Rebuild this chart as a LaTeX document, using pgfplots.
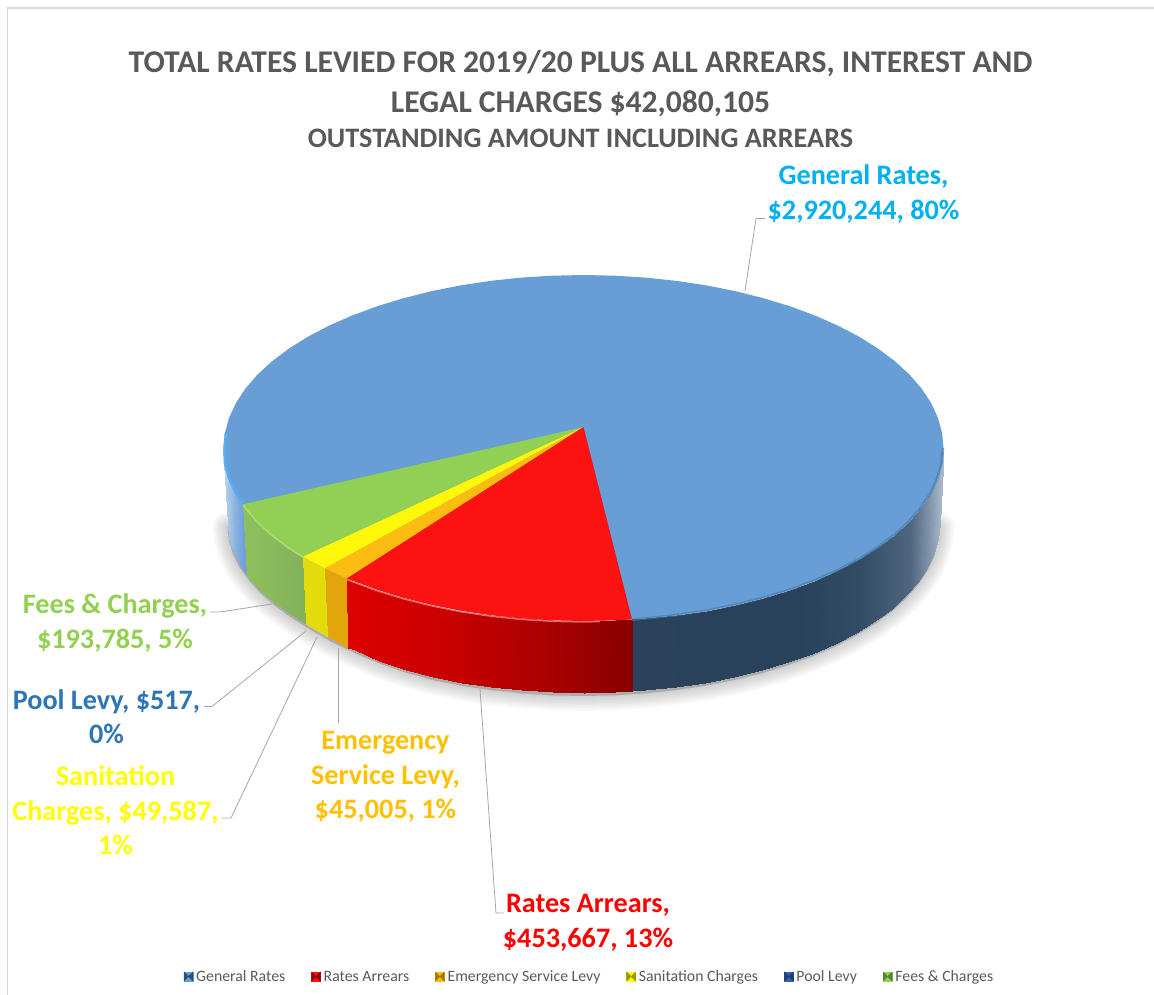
\documentclass[border=0pt]{standalone}
\usepackage{fontspec}
\setmainfont{Carlito}
\usepackage{pgfplots}
\usepackage{pgfplotstable}
\pgfplotsset{compat=1.18}

% Slice and label colours
\definecolor{capblue}{RGB}{103,158,214}
\definecolor{capred}{RGB}{253,18,18}
\definecolor{caporange}{RGB}{253,188,18}
\definecolor{capyellow}{RGB}{255,248,11}
\definecolor{capgreen}{RGB}{146,208,85}
\definecolor{txtblue}{RGB}{0,176,240}
\definecolor{txtred}{RGB}{255,0,0}
\definecolor{txtorange}{RGB}{255,192,0}
\definecolor{txtyellow}{RGB}{255,255,0}
\definecolor{txtpool}{RGB}{46,117,182}
\definecolor{txtgreen}{RGB}{146,208,80}
\definecolor{titlegrey}{RGB}{89,89,89}
\definecolor{leader}{RGB}{166,166,166}
\definecolor{frameline}{RGB}{217,217,217}
% Darker sides of the legend keys, and the bevel edge colours
\definecolor{keybluedark}{RGB}{45,80,120}
\definecolor{keyreddark}{RGB}{150,0,0}
\definecolor{keyorangedark}{RGB}{160,120,10}
\definecolor{keyyellowdark}{RGB}{150,150,10}
\definecolor{keypool}{RGB}{46,100,182}
\definecolor{keypooldark}{RGB}{30,60,110}
\definecolor{keygreendark}{RGB}{85,130,50}
\definecolor{bevelred}{RGB}{255,150,150}
\definecolor{bevelgreen}{RGB}{172,222,110}
\definecolor{bevelblueback}{RGB}{86,172,240}
\definecolor{bevelbluefront}{RGB}{70,120,170}

% Outline of the upper face of the disc
\pgfplotstableread{
x y
943.5 448
942.1 463.1
938 478
931.2 492.8
921.8 507.2
909.8 521.1
895.3 534.5
878.4 547.2
859.3 559.2
838.1 570.3
814.9 580.5
790 589.7
763.5 597.8
735.6 604.8
706.6 610.6
676.7 615.1
646 618.4
614.9 620.3
583.5 621
552.1 620.3
521 618.4
490.3 615.1
460.4 610.6
431.4 604.8
403.5 597.8
377 589.7
352.1 580.5
328.9 570.3
307.7 559.2
288.6 547.2
271.7 534.5
257.2 521.1
245.2 507.2
235.8 492.8
229 478
224.9 463.1
223.5 448
224.9 432.9
229 418
235.8 403.2
245.2 388.8
257.2 374.9
271.7 361.5
288.6 348.8
307.7 336.8
328.9 325.7
352.1 315.5
377 306.3
403.5 298.2
431.4 291.2
460.4 285.4
490.3 280.9
521 277.6
552.1 275.7
583.5 275
614.9 275.7
646 277.6
676.7 280.9
706.6 285.4
735.6 291.2
763.5 298.2
790 306.3
814.9 315.5
838.1 325.7
859.3 336.8
878.4 348.8
895.3 361.5
909.8 374.9
921.8 388.8
931.2 403.2
938 418
942.1 432.9
943.5 448
}\rimtop

% Lower edge of the disc, used for the ground shadow
\pgfplotstableread{
x y
939.5 524
938.1 538.7
934.1 553.3
927.4 567.7
918 581.8
906.1 595.4
891.8 608.5
875.1 620.9
856.2 632.6
835.2 643.5
812.3 653.5
787.7 662.4
761.5 670.4
733.9 677.2
705.3 682.8
675.6 687.2
645.3 690.4
614.5 692.4
583.5 693
552.5 692.4
521.7 690.4
491.4 687.2
461.7 682.8
433.1 677.2
405.5 669.5
379.3 660.5
354.7 650
331.8 639
310.8 627
291.9 615
275.2 603
260.9 590.5
249 577.5
239.6 564.5
232.9 551
228.9 537.5
227.5 524
}\rimbottom

% Wall strips: first row along the upper edge, second row along the lower edge
\pgfplotstableread{
x y
943.5 448
942.1 463.1
938 478
931.2 492.8
921.8 507.2
909.8 521.1
895.3 534.5
878.4 547.2
859.3 559.2
838.1 570.3
814.9 580.5
790 589.7
763.5 597.8
735.6 604.8
706.6 610.6
676.7 615.1
646 618.4
632 619.4
939.5 524
938.1 538.7
934.1 553.3
927.4 567.7
918 581.8
906.1 595.4
891.8 608.5
875.1 620.9
856.2 632.6
835.2 643.5
812.3 653.5
787.7 662.4
761.5 670.4
733.9 677.2
705.3 682.8
675.6 687.2
645.3 690.4
632 691.4
}\wallbluefront

\pgfplotstableread{
x y
632 619.4
614.9 620.3
583.5 621
552.1 620.3
521 618.4
490.3 615.1
460.4 610.6
431.4 604.8
403.5 597.8
377 589.7
352.1 580.5
347 578.4
632 691.4
614.5 692.4
583.5 693
552.5 692.4
521.7 690.4
491.4 687.2
461.7 682.8
433.1 677.2
405.5 669.5
379.3 660.5
354.7 650
348 648
}\wallred

\pgfplotstableread{
x y
347 578.4
328.9 570.3
325 568.4
348 648
331.8 639
327.5 637
}\wallorange

\pgfplotstableread{
x y
325 568.4
307.7 559.2
303 556.4
327.5 637
310.8 627
305.5 624
}\wallyellow

\pgfplotstableread{
x y
303 556.4
288.6 547.2
271.7 534.5
257.2 521.1
245.2 507.2
243 504.3
305.5 624
291.9 615
275.2 603
260.9 590.5
249 577.5
246.5 574.5
}\wallgreen

\pgfplotstableread{
x y
243 504.3
235.8 492.8
229 478
224.9 463.1
223.5 448
246.5 574.5
239.6 564.5
232.9 551
228.9 537.5
227.5 524
}\wallblueback

\pgfplotsset{
  walls/.style={surf, shader=interp, mesh/rows=2, point meta=x},
  bevelkey/.style 2 args={legend image code/.code={
    \fill[#1] (0pt,-4pt) rectangle (9pt,5pt);
    \fill[#2] (0pt,-4pt) -- (4.5pt,0.5pt) -- (0pt,5pt) -- cycle;
    \fill[#2] (9pt,-4pt) -- (4.5pt,0.5pt) -- (9pt,5pt) -- cycle;
  }},
}

\begin{document}
\begin{tikzpicture}
\path (0,0) rectangle (1154pt,995pt);
\begin{axis}[
  at={(0,0)}, anchor=south west,
  scale only axis, width=1154pt, height=995pt,
  xmin=0, xmax=1154, ymin=0, ymax=995, y dir=reverse,
  hide axis, clip=true,
  point meta min=0, point meta max=1154,
  colormap={blueF}{rgb255(0pt)=(42,66,92) rgb255(632pt)=(42,66,92) rgb255(800pt)=(40,66,92) rgb255(860pt)=(50,76,102) rgb255(910pt)=(78,102,126) rgb255(930pt)=(130,150,170) rgb255(944pt)=(176,191,208) rgb255(1154pt)=(176,191,208)},
  colormap={redW}{rgb255(0pt)=(222,0,0) rgb255(347pt)=(222,0,0) rgb255(450pt)=(200,0,0) rgb255(550pt)=(168,0,0) rgb255(632pt)=(135,0,0) rgb255(1154pt)=(135,0,0)},
  colormap={orangeW}{rgb255(0pt)=(226,165,12) rgb255(1154pt)=(226,165,12)},
  colormap={yellowW}{rgb255(0pt)=(226,220,12) rgb255(1154pt)=(226,220,12)},
  colormap={greenW}{rgb255(0pt)=(142,192,92) rgb255(243pt)=(142,192,92) rgb255(270pt)=(140,186,92) rgb255(305pt)=(130,175,90) rgb255(1154pt)=(130,175,90)},
  colormap={blueB}{rgb255(0pt)=(190,210,235) rgb255(224pt)=(190,210,235) rgb255(235pt)=(135,178,225) rgb255(243pt)=(110,160,220) rgb255(1154pt)=(110,160,220)},
  legend style={at={(axis cs:589.5,977)}, anchor=center, draw=none, fill=none,
    legend columns=6, font=\fontsize{15.8}{18}\selectfont, text=titlegrey,
    inner sep=0pt, outer sep=0pt,
    /tikz/every even column/.append style={column sep=24pt},
    /tikz/every odd column/.append style={column sep=1pt}},
]
% Legend entries come first so they are not taken by the drawing below
\addlegendimage{bevelkey={capblue}{keybluedark}}
\addlegendentry{General Rates}
\addlegendimage{bevelkey={capred}{keyreddark}}
\addlegendentry{Rates Arrears}
\addlegendimage{bevelkey={caporange}{keyorangedark}}
\addlegendentry{Emergency Service Levy}
\addlegendimage{bevelkey={capyellow}{keyyellowdark}}
\addlegendentry{Sanitation Charges}
\addlegendimage{bevelkey={keypool}{keypooldark}}
\addlegendentry{Pool Levy}
\addlegendimage{bevelkey={capgreen}{keygreendark}}
\addlegendentry{Fees \& Charges}

% Chart frame
\addplot[frameline, line width=1.2pt] coordinates {(7.5,995) (7.5,8) (1154,8)};

% Soft ground shadow under the disc
\pgfplotsinvokeforeach{3,6,9,12,15,18,21,24,27,30}{
  \addplot[fill=black, draw=black, opacity=0.02, line width=#1pt, line join=round, yshift=-3pt]
    table[x=x,y=y] {\rimbottom} -- cycle;
}

% Side walls of the disc
\addplot[walls, colormap name=blueF] table[x=x,y=y] {\wallbluefront};
\addplot[walls, colormap name=blueB] table[x=x,y=y] {\wallblueback};
\addplot[walls, colormap name=greenW] table[x=x,y=y] {\wallgreen};
\addplot[walls, colormap name=yellowW] table[x=x,y=y] {\wallyellow};
\addplot[walls, colormap name=orangeW] table[x=x,y=y] {\wallorange};
\addplot[walls, colormap name=redW] table[x=x,y=y] {\wallred};

% Upper face: the large slice first, then the narrower ones over it
\addplot[fill=capblue, draw=none] table[x=x,y=y] {\rimtop} -- cycle;
\addplot[fill=capgreen, draw=none] coordinates {(583.5,427) (303,556.4) (288.6,547.2) (271.7,534.5) (257.2,521.1) (245.2,507.2) (243,504.3)} -- cycle;
\addplot[fill=txtpool, draw=none] coordinates {(583.5,427) (303.1,556.5) (303,556.4)} -- cycle;
\addplot[fill=capyellow, draw=none] coordinates {(583.5,427) (325,568.4) (307.7,559.2) (303,556.4)} -- cycle;
\addplot[fill=caporange, draw=none] coordinates {(583.5,427) (347,578.4) (328.9,570.3) (325,568.4)} -- cycle;
\addplot[fill=capred, draw=none] coordinates {(583.5,427) (632,619.4) (614.9,620.3) (583.5,621) (552.1,620.3) (521,618.4) (490.3,615.1) (460.4,610.6) (431.4,604.8) (403.5,597.8) (377,589.7) (352.1,580.5) (347,578.4)} -- cycle;

% Bevel highlights along the upper edge
\addplot[draw=bevelred, line width=1.5pt, opacity=0.7] coordinates {(600,621.5) (583.5,622) (552.1,621.3) (521,619.4) (490.3,616.1) (460.4,611.6) (431.4,605.8) (403.5,598.8) (377,590.7) (352.1,581.5) (347,579.4)};
\addplot[draw=bevelgreen, line width=1.5pt] coordinates {(303,557) (288.6,548) (271.7,535.3) (257.2,521.9) (245.2,508) (243,505)};
\addplot[draw=bevelblueback, line width=2.5pt] coordinates {(243,503) (235.8,492.8) (229,478) (224.9,463.1) (224.5,448) (225.9,433)};
\addplot[draw=bevelbluefront, line width=2.5pt, opacity=0.6] coordinates {(943,448) (941.5,463.1) (937.4,478) (930.6,492.8) (921.2,507.2) (909.2,521.1) (894.7,534.5) (877.8,547.2) (858.7,559.2) (837.5,570.3) (814.3,580.5) (789.4,589.7) (762.9,597.8) (735,604.8) (706,610.6) (676.1,615.1) (645.4,618.4) (632,619.8)};

% Leader lines from the disc to the data labels
\addplot[leader, line width=0.8pt] coordinates {(745,291) (756,218.5) (765,218.5)};
\addplot[leader, line width=0.8pt] coordinates {(272,604) (220,612) (210,612)};
\addplot[leader, line width=0.8pt] coordinates {(306,631) (212,706.5) (204,706.5)};
\addplot[leader, line width=0.8pt] coordinates {(317,637) (231,818) (222,818)};
\addplot[leader, line width=0.8pt] coordinates {(338,648) (338,723)};
\addplot[leader, line width=0.8pt] coordinates {(480,689) (496,913) (504,913)};

% Title
\node[text=titlegrey, font=\bfseries\fontsize{31.6}{38}\selectfont] at (axis cs:580.5,64) {TOTAL RATES LEVIED FOR 2019/20 PLUS ALL ARREARS, INTEREST AND};
\node[text=titlegrey, font=\bfseries\fontsize{31.6}{38}\selectfont] at (axis cs:580.5,104) {LEGAL CHARGES \$42,080,105};
\node[text=titlegrey, font=\bfseries\fontsize{28.2}{34}\selectfont] at (axis cs:580.5,138) {OUTSTANDING AMOUNT INCLUDING ARREARS};

% Data labels
\node[text=txtblue, align=center, font=\bfseries\fontsize{28.2}{34.5}\selectfont] at (axis cs:863.5,194) {General Rates,\\\$2,920,244, 80\%};
\node[text=txtgreen, align=center, font=\bfseries\fontsize{28.2}{34.5}\selectfont] at (axis cs:115,623) {Fees \& Charges,\\\$193,785, 5\%};
\node[text=txtpool, align=center, font=\bfseries\fontsize{28.2}{34.5}\selectfont] at (axis cs:106.5,716.5) {Pool Levy, \$517,\\0\%};
\node[text=txtyellow, align=center, font=\bfseries\fontsize{28.2}{34.5}\selectfont] at (axis cs:115.5,810.5) {Sanitation\\Charges, \$49,587,\\1\%};
\node[text=txtorange, align=center, font=\bfseries\fontsize{28.2}{34.5}\selectfont] at (axis cs:385.5,777) {Emergency\\Service Levy,\\\$45,005, 1\%};
\node[text=txtred, align=center, font=\bfseries\fontsize{28.2}{34.5}\selectfont] at (axis cs:588,923) {Rates Arrears,\\\$453,667, 13\%};
\end{axis}
\end{tikzpicture}
\end{document}
